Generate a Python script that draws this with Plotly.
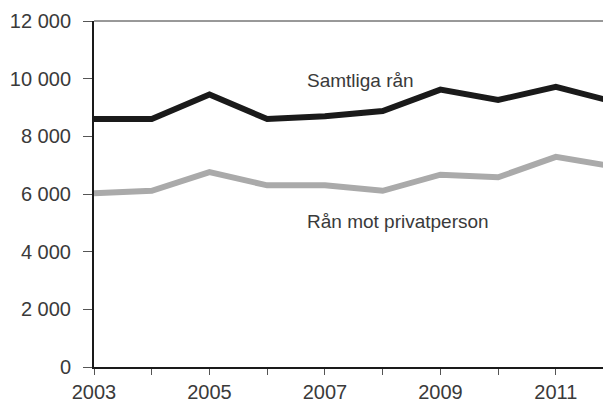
import plotly.graph_objects as go

years = [2003, 2004, 2005, 2006, 2007, 2008, 2009, 2010, 2011, 2012]
samtliga = [8600, 8600, 9450, 8600, 8700, 8880, 9620, 9260, 9720, 9200]
privat = [6030, 6110, 6760, 6300, 6300, 6110, 6670, 6580, 7290, 6950]

y_ticks = [0, 2000, 4000, 6000, 8000, 10000, 12000]
y_labels = ["0", "2 000", "4 000", "6 000", "8 000", "10 000", "12 000"]
x_labels = ["2003", "", "2005", "", "2007", "", "2009", "", "2011", ""]

label_samtliga = "Samtliga rån"
label_privat = "Rån mot privatperson"

FONT = "Liberation Sans, Arial, sans-serif"
TXT = "#3a3a3a"

fig = go.Figure()
fig.add_trace(go.Scatter(x=years, y=samtliga, mode="lines",
                         line=dict(color="#1a1a1a", width=6), cliponaxis=True,
                         showlegend=False, hoverinfo="skip"))
fig.add_trace(go.Scatter(x=years, y=privat, mode="lines",
                         line=dict(color="#aaaaaa", width=6), cliponaxis=True,
                         showlegend=False, hoverinfo="skip"))

fig.add_annotation(x=2006.66, y=9920, text=label_samtliga, showarrow=False,
                   xanchor="left", yanchor="middle",
                   font=dict(family=FONT, size=19, color=TXT))
fig.add_annotation(x=2006.66, y=5060, text=label_privat, showarrow=False,
                   xanchor="left", yanchor="middle",
                   font=dict(family=FONT, size=19, color=TXT))

# top frame line
fig.add_shape(type="line", xref="paper", yref="paper", x0=0, x1=1, y0=1, y1=1,
              line=dict(color="#333333", width=1))

# page has an 8px body margin, so the figure is sized to fill the rest of the window
fig.update_layout(
    width=603, height=393,
    margin=dict(l=86, r=0, t=13, b=34, autoexpand=False),
    paper_bgcolor="white", plot_bgcolor="white",
    font=dict(family=FONT, size=20, color=TXT),
)
fig.update_xaxes(
    range=[2003, 2011.955], tickmode="array", tickvals=years, ticktext=x_labels,
    showgrid=False, zeroline=False, showline=True, linecolor="#1a1a1a", linewidth=2,
    ticks="outside", ticklen=6, tickwidth=1, tickcolor="#555555", automargin=False,
    tickfont=dict(family=FONT, size=20, color=TXT),
)
fig.update_yaxes(
    range=[0, 12000], tickmode="array", tickvals=y_ticks, ticktext=y_labels,
    showgrid=False, zeroline=False, showline=True, linecolor="#1a1a1a", linewidth=2,
    ticks="outside", ticklen=9, tickwidth=1, tickcolor="#555555", automargin=False,
    tickfont=dict(family=FONT, size=20, color=TXT), ticklabelstandoff=8,
)

fig.write_html("out.html")
